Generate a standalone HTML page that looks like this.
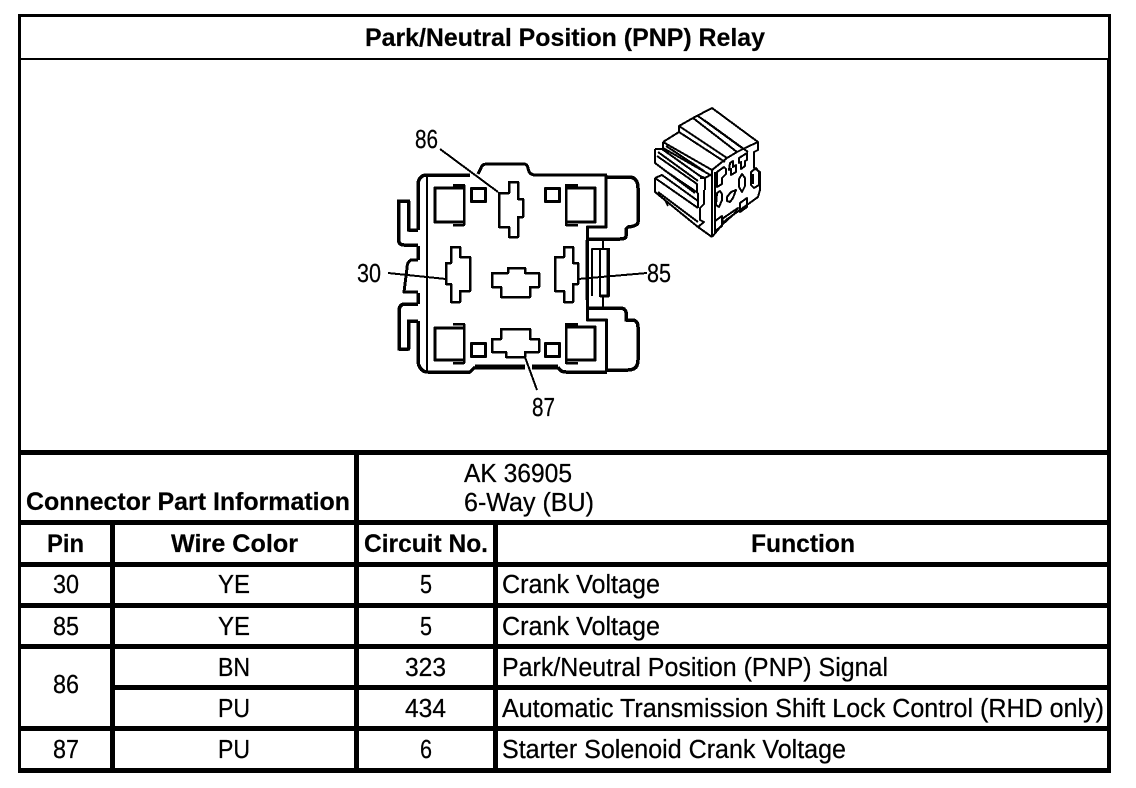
<!DOCTYPE html>
<html>
<head>
<meta charset="utf-8">
<style>
html,body{margin:0;padding:0;background:#fff;width:1136px;height:788px;overflow:hidden}
svg{display:block}
text{font-family:"Liberation Sans",Arial,sans-serif;font-size:25.5px;fill:#000;stroke:#000;stroke-width:.25}
.b{font-weight:bold;font-size:25px;stroke-width:.2}
.d path,.d rect,.d line{fill:none;stroke:#000}
</style>
</head>
<body>
<svg width="1136" height="788" viewBox="0 0 1136 788" xmlns="http://www.w3.org/2000/svg">
<rect width="1136" height="788" fill="#fff"/>
<g fill="#000" shape-rendering="crispEdges">
<rect x="18" y="14" width="1093" height="3"/>
<rect x="18" y="14" width="3" height="759"/>
<rect x="1108" y="14" width="3" height="46"/>
<rect x="1107" y="58" width="4" height="715"/>
<rect x="18" y="58" width="1092" height="2"/>
<rect x="18" y="450" width="1092" height="5"/>
<rect x="18" y="520" width="1092" height="5"/>
<rect x="18" y="562" width="1092" height="5"/>
<rect x="18" y="603" width="1092" height="5"/>
<rect x="18" y="644" width="1092" height="5"/>
<rect x="113" y="685" width="997" height="5"/>
<rect x="18" y="726" width="1092" height="5"/>
<rect x="18" y="768" width="1093" height="5"/>
<rect x="110" y="522" width="5" height="250"/>
<rect x="354" y="452" width="5" height="320"/>
<rect x="493" y="522" width="5" height="250"/>
</g>

<text class="b" x="365" y="46" textLength="400" lengthAdjust="spacingAndGlyphs">Park/Neutral Position (PNP) Relay</text>
<text class="b" x="26" y="510" textLength="324" lengthAdjust="spacingAndGlyphs">Connector Part Information</text>
<text x="464" y="482" textLength="108" lengthAdjust="spacingAndGlyphs">AK 36905</text>
<text x="464" y="511" textLength="130" lengthAdjust="spacingAndGlyphs">6-Way (BU)</text>
<text class="b" x="47" y="552" textLength="37" lengthAdjust="spacingAndGlyphs">Pin</text>
<text class="b" x="171" y="552" textLength="127" lengthAdjust="spacingAndGlyphs">Wire Color</text>
<text class="b" x="364" y="552" textLength="124" lengthAdjust="spacingAndGlyphs">Circuit No.</text>
<text class="b" x="751" y="552" textLength="104" lengthAdjust="spacingAndGlyphs">Function</text>

<text x="53" y="593" textLength="26" lengthAdjust="spacingAndGlyphs">30</text>
<text x="218" y="593" textLength="32" lengthAdjust="spacingAndGlyphs">YE</text>
<text x="420" y="593" textLength="12" lengthAdjust="spacingAndGlyphs">5</text>
<text x="502" y="593" textLength="158" lengthAdjust="spacingAndGlyphs">Crank Voltage</text>

<text x="53" y="635" textLength="26" lengthAdjust="spacingAndGlyphs">85</text>
<text x="218" y="635" textLength="32" lengthAdjust="spacingAndGlyphs">YE</text>
<text x="420" y="635" textLength="12" lengthAdjust="spacingAndGlyphs">5</text>
<text x="502" y="635" textLength="158" lengthAdjust="spacingAndGlyphs">Crank Voltage</text>

<text x="53" y="693" textLength="26" lengthAdjust="spacingAndGlyphs">86</text>
<text x="218" y="676" textLength="32" lengthAdjust="spacingAndGlyphs">BN</text>
<text x="405" y="676" textLength="41" lengthAdjust="spacingAndGlyphs">323</text>
<text x="502" y="676" textLength="386" lengthAdjust="spacingAndGlyphs">Park/Neutral Position (PNP) Signal</text>

<text x="218" y="717" textLength="32" lengthAdjust="spacingAndGlyphs">PU</text>
<text x="405" y="717" textLength="41" lengthAdjust="spacingAndGlyphs">434</text>
<text x="502" y="717" textLength="602" lengthAdjust="spacingAndGlyphs">Automatic Transmission Shift Lock Control (RHD only)</text>

<text x="53" y="758" textLength="26" lengthAdjust="spacingAndGlyphs">87</text>
<text x="218" y="758" textLength="32" lengthAdjust="spacingAndGlyphs">PU</text>
<text x="420" y="758" textLength="12" lengthAdjust="spacingAndGlyphs">6</text>
<text x="502" y="758" textLength="344" lengthAdjust="spacingAndGlyphs">Starter Solenoid Crank Voltage</text>

<text x="415" y="148" textLength="23" lengthAdjust="spacingAndGlyphs">86</text>
<text x="357" y="282" textLength="24" lengthAdjust="spacingAndGlyphs">30</text>
<text x="647" y="282" textLength="24" lengthAdjust="spacingAndGlyphs">85</text>
<text x="532" y="416" textLength="23" lengthAdjust="spacingAndGlyphs">87</text>

<g class="d" shape-rendering="crispEdges" stroke-linejoin="round">
  <!-- main body -->
  <path stroke-width="3.500" d="M470,175 H425 Q418,177 418,185 V230 M418,246 V260 M418,293 V304 M418,321 V362 Q420,372 428,372 H470 L475,367"/>
  <path stroke-width="3" d="M478,174 L481,168 Q482,164 487,164 H524 Q527,164 528,168 Q529,175 535,175 H607"/>
  <path stroke-width="2" d="M427,175 V372"/>
  <path stroke-width="5" d="M475,367 H525 M532,367 H558"/>
  <path stroke-width="3.500" d="M558,367 Q560,372 566,372 H607"/>
  <path stroke-width="3" d="M606,175 V227 H587.500 V320 H606.500 V372"/>
  <!-- right ears -->
  <path stroke-width="3.500" d="M607,177 H630 Q638,178 638,188 V222 Q638,226 628,227 L626,229 V236 Q626,239 620,239 H588"/>
  <path stroke-width="3.500" d="M588,308 H620 Q625,308 626,312 V320 H633 Q638,321 638,327 V360 Q638,370 628,370 H607"/>
  <!-- latch -->
  <path stroke-width="2" d="M603,239 V249 M592,296 V249 H609 V296 H600 V249"/>
  <path stroke-width="3" d="M608,249 V296 M600,296 H609 M587,240 V300"/>
  <path stroke-width="2" d="M603,296 V307"/>
  <!-- left clips -->
  <path stroke-width="3.500" d="M418,230 H408.500 V201 H398.500 V240 Q399,245 404,245 H418"/>
  <path stroke-width="3.500" d="M418,304 H404 Q399,305 399,311 V349 H408.500 V321 H418"/>
  <path stroke-width="3" d="M418,260 H411 Q407,262 407,268 L404,292 H418"/>
  <!-- corner cells -->
  <path stroke-width="3" d="M464,188 H435 V222 H464"/>
  <path stroke-width="2.500" d="M453,185 H464 V225 H453"/>
  <path stroke-width="3" d="M464,328 H435 V360 H464"/>
  <path stroke-width="2.500" d="M453,324 H464 V363 H453"/>
  <path stroke-width="3" d="M566,188 H595 V222 H566"/>
  <path stroke-width="2.500" d="M578,185 H566 V225 H578"/>
  <path stroke-width="3" d="M566,327 H595 V360 H566"/>
  <path stroke-width="2.500" d="M578,324 H566 V363 H578"/>
  <!-- squares -->
  <rect stroke-width="3" x="471.500" y="188.500" width="14" height="13"/>
  <rect stroke-width="3" x="545.500" y="188.500" width="14" height="13"/>
  <rect stroke-width="3" x="471.500" y="343.500" width="14" height="13"/>
  <rect stroke-width="3" x="545.500" y="343.500" width="14" height="13"/>
  <!-- terminals -->
  <path stroke-width="2.500" d="M509,182 H518 V199 H523 V217 H518 V237 H509 V227 H499 V193 H509 Z"/>
  <path stroke-width="2.500" d="M451,247 H460 V257 H470 V291 H460 V302 H451 V284 H446 V263 H451 Z"/>
  <path stroke-width="2.500" d="M564,247 H573 V263 H578 V284 H573 V302 H564 V291 H555 V257 H564 Z"/>
  <path stroke-width="2.500" d="M508,268 H525 V273 H539 V287 H530 V297 H501 V287 H492 V273 H508 Z"/>
  <path stroke-width="2.500" d="M501,329 H530 V339 H539 V352 H525 V357 H506 V352 H492 V339 H501 Z"/>
  <!-- leaders -->
  <path stroke-width="2" d="M440,149 L498,192"/>
  <path stroke-width="2" d="M388,273 L446,279"/>
  <path stroke-width="2" d="M647,273 L578,279"/>
  <path stroke-width="2" d="M525,357 L537,390"/>

  <!-- isometric connector -->
  <g stroke-width="2">
    <path d="M663,142 L679,132 V126 L693,118 L712,108 L758,142 V150 L754,152 V168 L760,172 V190 L758,197 L726,220 L712,237"/>
    <path d="M712,170 V237 M715,172 V234"/>
    <path d="M712,170 L727,158 L737,152 L745,148 L758,142"/>
    <path d="M663,142 V148 L712,176"/>
    <path d="M663,142 L712,170"/>
    <path d="M666,146 L704,171"/>
    <path d="M679,126 L727,158"/>
    <path d="M679,132 L725,162"/>
    <path d="M693,118 L737,152"/>
    <path d="M698,116 L742,148"/>
    <path d="M704,120 L748,152"/>
    <path d="M655,149 H662 L700,176 L705,178 V190"/>
    <path d="M655,149 V163 L695,193"/>
    <path d="M658,152 L698,181"/>
    <path d="M657,156 L697,184 V193"/>
    <path d="M664,170 L698,193"/>
    <path d="M655,178 L662,175 L698,201"/>
    <path d="M655,178 L698,208"/>
    <path d="M655,178 V192 L698,227 L712,237"/>
    <path d="M658,192 L698,222"/>
    <path d="M665,200 L668,206"/>
    <path d="M698,193 V208 M704,190 V204 L700,208 V220 L704,222 L698,227"/>
    <path d="M700,178 H705 L712,174"/>
    <!-- face blobs -->
    <path d="M717,172 L724,167 L726,169 V174 L722,178 V184 L717,187 Z"/>
    <path d="M730,163 L733,161 V167 L736,165 V172 L731,175 V169 L729,170 Z"/>
    <path d="M739,158 L747,153 V160 L745,161 V166 L741,169 V162 L739,163 Z"/>
    <path d="M717,193 L720,191 L722,194 V200 L719,207 L716,205 Z"/>
    <path d="M727,197 L731,192 L736,190 L733,198 L730,202 L727,201 Z"/>
    <path d="M742,174 L745,178 V186 L742,192 L739,187 V179 Z"/>
    <path d="M715,221 L722,216 V226 L715,231 Z"/>
    <path d="M722,219 L735,210 L738,208 L734,214 L724,223 Z"/>
    <path d="M740,203 L747,198 V207 L740,212 Z"/>
    <path d="M751,172 L756,168 L759,172 V185 L754,188 L751,185 Z"/>
    <path d="M753,174 V184"/>
  </g>
</g>
</svg>
</body>
</html>
